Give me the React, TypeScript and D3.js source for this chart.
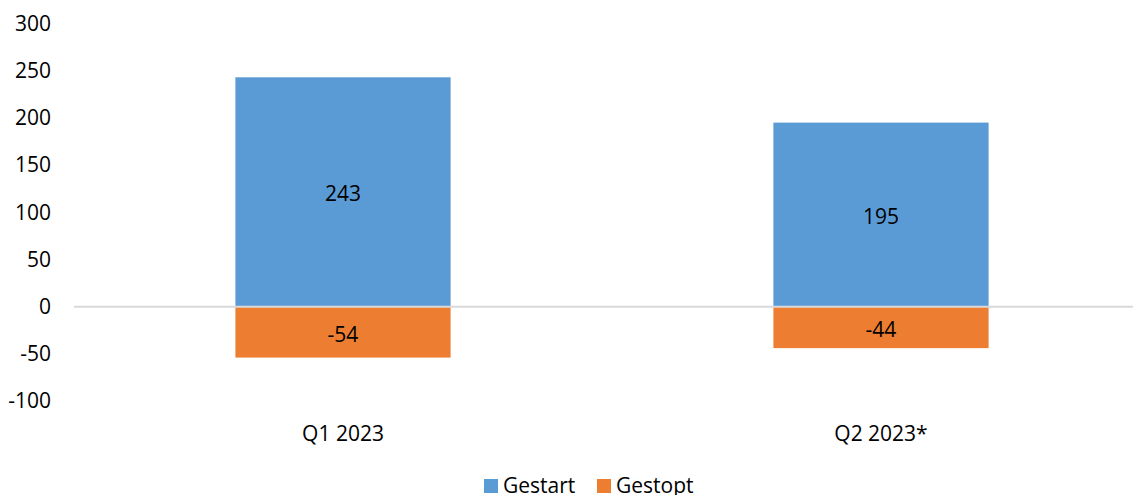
import React, { useEffect, useRef } from 'react';
import * as d3 from 'd3';

// chart data
const categories = ['Q1 2023', 'Q2 2023*'];
const gestart = [243, 195];
const gestopt = [-54, -44];
const yTicks = [300, 250, 200, 150, 100, 50, 0, -50, -100];
const seriesNames = ['Gestart', 'Gestopt'];
const seriesColors = ['#5B9BD5', '#ED7D31'];

function App() {
    const ref = useRef<SVGSVGElement | null>(null);

    useEffect(() => {
        const width = 1133;
        const font = '"Open Sans", sans-serif';
        const fontSize = 21;

        const svg = d3.select(ref.current);
        svg.selectAll('*').remove();

        // plot area runs past the right edge, like the cropped original
        const x = d3.scaleBand()
            .domain(categories)
            .range([74, 1150])
            .paddingInner(0.6)
            .paddingOuter(0.3);

        const y = d3.scaleLinear()
            .domain([-100, 300])
            .range([401, 23.5]);

        // y tick labels
        svg.append('g')
            .selectAll('text')
            .data(yTicks)
            .enter().append('text')
            .attr('x', 51)
            .attr('y', d => y(d))
            .attr('dy', '0.35em')
            .attr('text-anchor', 'end')
            .attr('font-family', font)
            .attr('font-size', fontSize)
            .attr('fill', '#000')
            .text(d => d);

        // bars
        const series = [gestart, gestopt];
        series.forEach((values, si) => {
            svg.append('g')
                .selectAll('rect')
                .data(values)
                .enter().append('rect')
                .attr('x', (d, i) => x(categories[i]) as number)
                .attr('y', d => y(Math.max(0, d)))
                .attr('width', x.bandwidth())
                .attr('height', d => Math.abs(y(d) - y(0)))
                .attr('fill', seriesColors[si]);

            // value labels in the middle of each bar
            svg.append('g')
                .selectAll('text')
                .data(values)
                .enter().append('text')
                .attr('x', (d, i) => (x(categories[i]) as number) + x.bandwidth() / 2)
                .attr('y', d => (y(d) + y(0)) / 2)
                .attr('dy', '0.45em')
                .attr('text-anchor', 'middle')
                .attr('font-family', font)
                .attr('font-size', fontSize)
                .attr('fill', '#000')
                .text(d => d);
        });

        // zero line
        svg.append('line')
            .attr('x1', 74)
            .attr('x2', width)
            .attr('y1', y(0))
            .attr('y2', y(0))
            .attr('stroke', '#D9D9D9')
            .attr('stroke-width', 2);

        // category labels
        svg.append('g')
            .selectAll('text')
            .data(categories)
            .enter().append('text')
            .attr('x', d => (x(d) as number) + x.bandwidth() / 2)
            .attr('y', 441)
            .attr('text-anchor', 'middle')
            .attr('font-family', font)
            .attr('font-size', fontSize)
            .attr('fill', '#000')
            .text(d => d);

        // legend
        const legendX = [484, 597];
        const legend = svg.append('g');
        seriesNames.forEach((name, i) => {
            legend.append('rect')
                .attr('x', legendX[i])
                .attr('y', 479)
                .attr('width', 14)
                .attr('height', 14)
                .attr('fill', seriesColors[i]);
            legend.append('text')
                .attr('x', legendX[i] + 19)
                .attr('y', 493)
                .attr('font-family', font)
                .attr('font-size', fontSize)
                .attr('fill', '#000')
                .text(name);
        });
    }, []);

    return (
        <svg
            ref={ref}
            width={1133}
            height={495}
            style={{ position: 'absolute', left: 0, top: 0, background: '#fff' }}
        />
    );
}

export default App;
